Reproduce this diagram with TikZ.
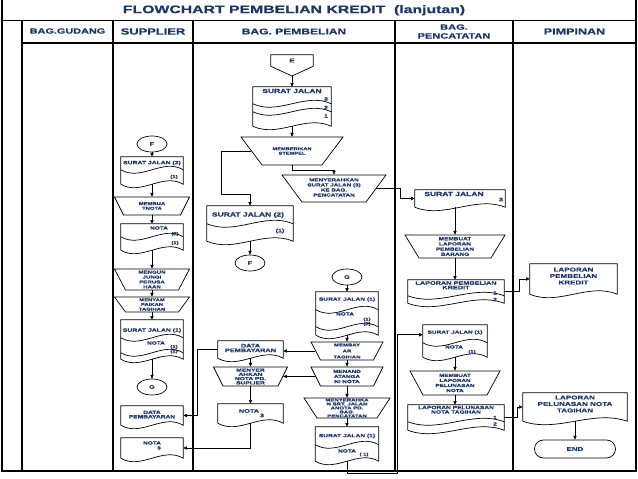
\documentclass[tikz,border=0pt]{standalone}
\usepackage{fontspec}
\usepackage{tikz}
\usetikzlibrary{positioning, arrows.meta, calc, shapes.geometric, shapes.misc}
\newfontfamily\flowfont[FakeStretch=1.45, FakeBold=0.8]{Liberation Sans}
\definecolor{FlowNavy}{HTML}{1F3566}

\tikzset{
  shapeline/.style={line width=0.6pt, black},
  frame/.style={line width=0.9pt, black},
  sz/.style 2 args={minimum width=#1*0.03cm, minimum height=#2*0.03cm},
  tsz/.style 2 args={minimum width=#1*0.03cm, text height=#2*0.03cm, text depth=0pt},
  fsz/.style={font={\flowfont\bfseries\fontsize{#1}{\dimexpr #1pt*116/100\relax}\selectfont}},
  lbl/.style={text=FlowNavy, inner sep=0pt, align=center, fsz=3.8},
  docbox/.style={rectangle, inner sep=0pt},
  manual/.style={trapezium, shape border rotate=180, trapezium stretches body,
    trapezium left angle=#1, trapezium right angle=#1, draw, shapeline, inner sep=0pt},
  conn/.style={ellipse, draw, shapeline, inner sep=0pt, sz={30}{16}, text=FlowNavy, fsz=4.3},
  term/.style={rounded rectangle, draw, shapeline, inner sep=0pt, text=FlowNavy, fsz=4.65},
  arr/.style={-{Triangle[length=3.2pt, width=2.8pt]}, shapeline}
}

% document outline with a wavy lower edge
\newcommand{\docshape}[1]{%
  \draw[shapeline] (#1.south west) -- (#1.north west) -- (#1.north east) -- (#1.south east)
    .. controls ($(#1.south west)!0.67!(#1.south east)+(0,-12)$)
    and ($(#1.south west)!0.33!(#1.south east)+(0,12)$) .. (#1.south west);}
% sheet line of a stacked document
\newcommand{\docwave}[2]{%
  \draw[shapeline] ($(#1.north west)+(0,#2)$)
    .. controls ($(#1.north west)!0.33!(#1.north east)+(0,#2+12)$)
    and ($(#1.north west)!0.67!(#1.north east)+(0,#2-12)$) .. ($(#1.north east)+(0,#2)$);}

\begin{document}
\begin{tikzpicture}[x=0.03cm, y=-0.03cm]
  \useasboundingbox (0,0) rectangle (638,479);

  % Frame and lanes
  \draw[frame] (2,0) -- (2,471) -- (636,471) -- (636,0);
  \draw[frame] (2,20.5) -- (636,20.5);
  \draw[frame] (22,43) -- (636,43);
  \draw[frame] (22,20.5) -- (22,471);
  \draw[frame] (113,20.5) -- (113,471);
  \draw[frame] (193,20.5) -- (193,471);
  \draw[frame] (395,20.5) -- (395,471);
  \draw[frame] (513,20.5) -- (513,471);

  % Title and lane headers
  \node[lbl, fsz=9.3] (title) at (294,10.3) {FLOWCHART PEMBELIAN KREDIT\ \ (lanjutan)};
  \node[lbl, fsz=6.4] (hGudang) at (67.5,31) {BAG.GUDANG};
  \node[lbl, fsz=7.6] (hSupplier) at (153,31.5) {SUPPLIER};
  \node[lbl, fsz=7.1] (hPembelian) at (294,31.5) {BAG. PEMBELIAN};
  \node[lbl, fsz=6.5] (hPencatatan) at (454,31.5) {BAG.\\PENCATATAN};
  \node[lbl, fsz=7.4] (hPimpinan) at (574.5,31.5) {PIMPINAN};

  % Supplier lane
  \node[conn] (F1) at (152,144) {F};

  \node[docbox, sz={62}{27}] (sjSup) at (152,170.5) {};
  \docshape{sjSup} \docwave{sjSup}{13}
  \node[lbl, fsz=4] (sjSupA) at (152,163) {SURAT JALAN (2)};
  \node[lbl, fsz=3.6] (sjSupB) at (174,177) {(1)};

  \node[manual=63.4, tsz={75}{18}] (mbNota) at (152,206) {};
  \node[lbl, fsz=3.45] (mbNotaT) at (mbNota.center) {MEMBUA\\TNOTA};

  \node[docbox, sz={62}{26}] (notaSup) at (152,237) {};
  \docshape{notaSup} \docwave{notaSup}{13}
  \node[lbl] (notaSupA) at (159,228) {NOTA};
  \node[lbl, fsz=3.45] (notaSupB) at (175,234) {(2)};
  \node[lbl, fsz=3.45] (notaSupC) at (175,243) {(1)};

  \node[manual=62.4, tsz={75}{21}] (kunjung) at (152,279.5) {};
  \node[lbl, fsz=3.6] (kunjungT) at (kunjung.center) {MENGUN\\JUNGI\\PERUSA\\HAAN};

  \node[manual=53.7, tsz={75}{15}] (tagih) at (152,304.5) {};
  \node[lbl, fsz=3.45] (tagihT) at (tagih.center) {MENYAM\\PAIKAN\\TAGIHAN};

  \node[docbox, sz={62}{39}] (sjNotaSup) at (152,339.5) {};
  \docshape{sjNotaSup} \docwave{sjNotaSup}{18} \docwave{sjNotaSup}{33}
  \node[lbl, fsz=4.05] (sjNotaSupA) at (152,330.5) {SURAT JALAN (1)};
  \node[lbl] (sjNotaSupB) at (156,343) {NOTA};
  \node[lbl, fsz=3.45] (sjNotaSupC) at (174,347) {(1)};
  \node[lbl, fsz=3.45] (sjNotaSupD) at (174,351.5) {(2)};

  \node[conn] (G1) at (152,387) {G};

  \node[docbox, sz={62}{19}] (dataSup) at (152,415.5) {};
  \docshape{dataSup}
  \node[lbl, fsz=3.9] (dataSupT) at (152,414.5) {DATA\\[-0.8pt]PEMBAYARAN};

  \node[docbox, sz={62}{20}] (nota3Sup) at (152,448) {};
  \docshape{nota3Sup}
  \node[lbl] (nota3SupA) at (152,443) {NOTA};
  \node[lbl] (nota3SupB) at (159,448) {3};

  % Pembelian lane
  \node[docbox, sz={42}{11}, lbl, fsz=4.75] (E) at (292,60.5) {E};
  \coordinate (Etip) at (292,76);
  \draw[shapeline] (E.north west) -- (E.north east) -- (E.south east) -- (Etip)
    -- (E.south west) -- cycle;

  \node[docbox, sz={78}{39}] (sj321) at (292,106.5) {};
  \docshape{sj321} \docwave{sj321}{17} \docwave{sj321}{25}
  \node[lbl, fsz=5] (sj321A) at (292,91) {SURAT JALAN};
  \node[lbl, fsz=4.15] (sj321B) at (326,99) {3};
  \node[lbl, fsz=4.15] (sj321C) at (326,107.5) {2};
  \node[lbl, fsz=4.15] (sj321D) at (326,116) {1};

  \node[manual=53.1, tsz={102}{28}] (stempel) at (292,151) {};
  \node[lbl, fsz=3.35] (stempelT) at (stempel.center) {MEMBERIKAN\\STEMPEL};

  \node[manual=53.5, tsz={104}{27}] (serahSJ) at (334,188.5) {};
  \node[lbl, fsz=3.7] (serahSJT) at (334,187.5)
    {MENYERAHKAN\\SURAT JALAN (3)\\KE BAG.\\PENCATATAN};

  \node[docbox, sz={86}{35}] (sjPemb) at (250,223.5) {};
  \docshape{sjPemb} \docwave{sjPemb}{18}
  \node[lbl, fsz=5] (sjPembA) at (248,215) {SURAT JALAN (2)};
  \node[lbl, fsz=4.15] (sjPembB) at (280,231) {(1)};

  \node[conn] (F2) at (250,263) {F};
  \node[conn] (G2) at (347,277) {G};

  \node[docbox, sz={62}{43}] (sjNotaPemb) at (347,313.5) {};
  \docshape{sjNotaPemb} \docwave{sjNotaPemb}{18} \docwave{sjNotaPemb}{35}
  \node[lbl, fsz=3.9] (sjNotaPembA) at (347,299.5) {SURAT JALAN (1)};
  \node[lbl] (sjNotaPembB) at (345,314) {NOTA};
  \node[lbl, fsz=3.45] (sjNotaPembC) at (367,319.5) {(1)};
  \node[lbl, fsz=3.45] (sjNotaPembD) at (367,324) {(2)};

  \node[manual=62.2, tsz={72}{18}] (bayar) at (347,351) {};
  \node[lbl, fsz=3.55] (bayarT) at (bayar.center) {MEMBAY\\[1pt]AR\\[1pt]TAGIHAN};

  \node[docbox, sz={65}{17}] (dataPemb) at (250.5,349.5) {};
  \docshape{dataPemb}
  \node[lbl, fsz=4.3] (dataPembT) at (250.5,348) {DATA\\[-1pt]PEMBAYARAN};

  \node[manual=63.4, tsz={74}{19}] (serahNota) at (250.5,376.5) {};
  \node[lbl, fsz=3.9] (serahNotaT) at (serahNota.center) {MENYER\\[-0.9pt]AHKAN\\[-0.9pt]NOTA PD.\\[-0.9pt]SUPLIER};

  \node[manual=63.4, tsz={72}{19}] (tandatangan) at (347,376.5) {};
  \node[lbl, fsz=3.7] (tandatanganT) at (tandatangan.center) {MENAND\\ATANGA\\NI NOTA};

  \node[docbox, sz={65}{19}] (nota3Pemb) at (250.5,413.5) {};
  \docshape{nota3Pemb}
  \node[lbl, fsz=4.3] (nota3PembA) at (249,411) {NOTA};
  \node[lbl, fsz=4.3] (nota3PembB) at (262,415.5) {3};

  \node[manual=57, tsz={86}{20}] (serahSJN) at (347,408) {};
  \node[lbl, fsz=3.55] (serahSJNT) at (serahSJN.center)
    {MENYERAHKA\\[-0.7pt]N SRT. JALAN\\[-0.7pt]ANOTA PD.\\[-0.7pt]BAG.\\[-0.7pt]PENCATATAN};

  \node[docbox, sz={63}{34}] (sjNotaAkhir) at (347,444) {};
  \docshape{sjNotaAkhir} \docwave{sjNotaAkhir}{18}
  \node[lbl, fsz=3.9] (sjNotaAkhirA) at (347,436) {SURAT JALAN (1)};
  \node[lbl] (sjNotaAkhirB) at (347,451) {NOTA};
  \node[lbl, fsz=3.45] (sjNotaAkhirC) at (364,454.5) {( 1)};

  % Pencatatan lane
  \node[docbox, sz={90}{17}] (sjPenc) at (460,198.5) {};
  \docshape{sjPenc}
  \node[lbl, fsz=5] (sjPencA) at (454,194) {SURAT JALAN};
  \node[lbl, fsz=4.3] (sjPencB) at (501,199.5) {3};

  \node[manual=58.7, tsz={100}{23}] (buatLPB) at (455,246.5) {};
  \node[lbl] (buatLPBT) at (buatLPB.center) {MEMBUAT\\LAPORAN\\PEMBELIAN\\BARANG};

  \node[docbox, sz={96}{23}] (lpkPenc) at (456,291.5) {};
  \docshape{lpkPenc} \docwave{lpkPenc}{16}
  \node[lbl, fsz=4.3] (lpkPencA) at (456,283) {LAPORAN PEMBELIAN};
  \node[lbl, fsz=4.3] (lpkPencB) at (456,287.5) {KREDIT};
  \node[lbl, fsz=3.9] (lpkPencC) at (495,293) {1};
  \node[lbl, fsz=3.9] (lpkPencD) at (495,299.5) {2};

  \node[docbox, sz={64}{32}] (sjNotaPenc) at (455,341) {};
  \docshape{sjNotaPenc} \docwave{sjNotaPenc}{18}
  \node[lbl] (sjNotaPencA) at (455,332.5) {SURAT JALAN (1)};
  \node[lbl] (sjNotaPencB) at (454,347) {NOTA};
  \node[lbl, fsz=3.45] (sjNotaPencC) at (472,352) {(1)};

  \node[manual=61.6, tsz={90}{24}] (buatLPN) at (455,383) {};
  \node[lbl, fsz=3.7] (buatLPNT) at (buatLPN.center) {MEMBUAT\\LAPORAN\\PELUNASAN\\NOTA};

  \node[docbox, sz={96}{25}] (lpnPenc) at (456,417.5) {};
  \docshape{lpnPenc} \docwave{lpnPenc}{17}
  \node[lbl, fsz=3.9] (lpnPencA) at (456,407.5) {LAPORAN PELUNASAN};
  \node[lbl, fsz=3.9] (lpnPencB) at (456,412) {NOTA TAGIHAN};
  \node[lbl, fsz=3.9] (lpnPencC) at (495,417.5) {1};
  \node[lbl, fsz=3.9] (lpnPencD) at (495,424) {2};

  % Pimpinan lane
  \node[docbox, sz={87}{30}] (lpkPim) at (573.5,279) {};
  \docshape{lpkPim}
  \node[lbl, fsz=4.75] (lpkPimT) at (573.5,276) {LAPORAN\\PEMBELIAN\\KREDIT};

  \node[docbox, sz={104}{28}] (lpnPim) at (575,407) {};
  \docshape{lpnPim}
  \node[lbl, fsz=4.75] (lpnPimT) at (575,404) {LAPORAN\\PELUNASAN NOTA\\TAGIHAN};

  \node[term, sz={81}{18}] (selesai) at (575,449) {END};

  % Arrows
  \draw[arr] (F1.south) -- (sjSup.north);
  \draw[arr] (sjSup.south) -- (mbNota.north);
  \draw[arr] (mbNota.south) -- (notaSup.north);
  \draw[arr] (notaSup.south) -- (kunjung.north);
  \draw[arr] (kunjung.south) -- (tagih.north);
  \draw[arr] (tagih.south) -- (sjNotaSup.north);
  \draw[arr] (sjNotaSup.south) -- (G1.north);

  \draw[arr] (Etip) -- (sj321.north);
  \draw[arr] (sj321.south) -- (stempel.north);
  \draw[arr] (stempel.south) -- ++(0,5) -| (serahSJ.north);
  \draw[arr] (stempel.west) -- ++(-30,0) |- ($(sjPemb.north)+(0,-11)$) -- (sjPemb.north);
  \draw[arr] (sjPemb.south) -- (F2.north);
  \draw[arr] (serahSJ.east) -- ++(24,0) |- (sjPenc.west);

  \draw[arr] (G2.south) -- (sjNotaPemb.north);
  \draw[arr] (sjNotaPemb.south) -- (bayar.north);
  \draw[arr] (bayar.west) -- (bayar.west -| dataPemb.east);
  \draw[arr] (dataPemb.west) -- ++(-20.5,0) |- (dataSup.east);
  \draw[arr] (dataPemb.south) -- (serahNota.north);
  \draw[arr] (bayar.south) -- (tandatangan.north);
  \draw[arr] (tandatangan.west) -- (serahNota.east);
  \draw[arr] (serahNota.south) -- (nota3Pemb.north);
  \draw[arr] (nota3Pemb.south) |- (nota3Sup.east);
  \draw[arr] (tandatangan.south) -- (serahSJN.north);
  \draw[arr] (serahSJN.south) -- (sjNotaAkhir.north);
  \draw[arr] (sjNotaAkhir.south) -- ++(0,12) -| ($(sjNotaPenc.north west)+(-25,10)$)
    -- ($(sjNotaPenc.north west)+(0,10)$);

  \draw[arr] (sjPenc.south -| buatLPB.north) -- (buatLPB.north);
  \draw[arr] (buatLPB.south) -- (buatLPB.south |- lpkPenc.north);
  \draw[arr] (lpkPenc.east) -- ++(15,0) |- (lpkPim.west);
  \draw[arr] (sjNotaPenc.south) -- (buatLPN.north);
  \draw[arr] (buatLPN.south) -- (buatLPN.south |- lpnPenc.north);
  \draw[arr] (lpnPenc.east) -- ++(13,0) |- (lpnPim.west);
  \draw[arr] (lpnPim.south) -- (selesai.north);
\end{tikzpicture}
\end{document}
